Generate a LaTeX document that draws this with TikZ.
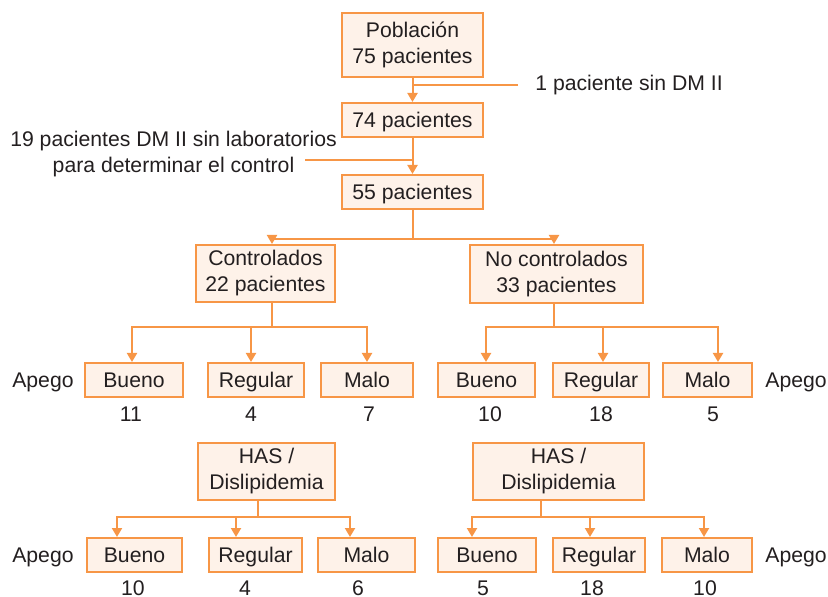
\documentclass[tikz,border=0pt]{standalone}
\usepackage{fontspec}
\setmainfont{Liberation Sans}
\usetikzlibrary{arrows.meta, positioning}
\definecolor{boxorange}{RGB}{247,150,70}
\definecolor{inkgray}{RGB}{35,31,32}

\begin{document}
\begin{tikzpicture}[
            x=1pt, y=1pt,
            font=\fontsize{10.6}{13}\selectfont, text=inkgray,
            box/.style={rectangle, draw=boxorange, fill=boxorange!12, line width=1.2pt, align=center, inner sep=2pt},
            level/.style={box, minimum height=16.8pt, text height=8pt, text depth=0.4pt},
            note/.style={align=center, inner sep=0pt},
            num/.style={inner sep=0pt},
            line/.style={draw=boxorange, line width=1pt},
            arrow/.style={line, -{Triangle[width=5pt,length=4.5pt]}}
        ]
            \useasboundingbox (0,0) rectangle (414,-298.5);

            % main column
            \node[box, minimum width=70.3pt, minimum height=31.8pt] (pob) at (206.25,-22.5) {Población\\75 pacientes};
            \node[level, minimum width=70.3pt, below=12pt of pob] (p74) {74 pacientes};
            \node[level, minimum width=70.3pt, below=18pt of p74] (p55) {55 pacientes};

            % exclusions
            \node[note, anchor=west] (note1) at (267.5,-42.5) {1 paciente sin DM II};
            \node[note] (note2) at (86.75,-77) {19 pacientes DM II sin laboratorios\\para determinar el control};
            \coordinate (cut2) at (152.5,-80);

            % control groups
            \node[box, minimum width=69.3pt, minimum height=28.3pt] (ctrl) at (132.75,-136.75) {Controlados\\22 pacientes};
            \node[box, minimum width=86.3pt, minimum height=28.8pt] (noctrl) at (278.25,-137) {No controlados\\33 pacientes};

            \node[level, minimum width=48.8pt] (bL1) at (67,-190) {Bueno};
            \node[level, minimum width=47.8pt, right=11.5pt of bL1] (rL1) {Regular};
            \node[level, minimum width=45.8pt, right=7.5pt of rL1] (mL1) {Malo};
            \node[level, minimum width=48.3pt] (bR1) at (243.25,-190) {Bueno};
            \node[level, minimum width=47.8pt, right=8pt of bR1] (rR1) {Regular};
            \node[level, minimum width=44.3pt, right=6pt of rR1] (mR1) {Malo};

            % comorbidity groups
            \node[box, minimum width=68.3pt, minimum height=28.3pt] (hasL) at (133.25,-235.75) {HAS /\\Dislipidemia};
            \node[box, minimum width=85.3pt, minimum height=28.3pt] (hasR) at (279.25,-235.75) {HAS /\\Dislipidemia};

            \node[level, minimum width=47.3pt] (bL2) at (67.25,-277.5) {Bueno};
            \node[level, minimum width=46.3pt, right=12.5pt of bL2] (rL2) {Regular};
            \node[level, minimum width=48.3pt, right=7pt of rL2] (mL2) {Malo};
            \node[level, minimum width=48.8pt] (bR2) at (243.5,-277.5) {Bueno};
            \node[level, minimum width=45.8pt, right=7.5pt of bR2] (rR2) {Regular};
            \node[level, minimum width=44.8pt, right=7.5pt of rR2] (mR2) {Malo};

            % row labels
            \node[num, anchor=base east] (apL1) at ([xshift=-5pt]bL1.base west) {Apego};
            \node[num, anchor=base west] (apR1) at ([xshift=6pt]mR1.base east) {Apego};
            \node[num, anchor=base east] (apL2) at ([xshift=-6pt]bL2.base west) {Apego};
            \node[num, anchor=base west] (apR2) at ([xshift=6pt]mR2.base east) {Apego};

            % counts
            \foreach \k/\v/\dx in {bL1/11/-1.5, rL1/4/-2.5, mL1/7/1, bR1/10/1.75, rR1/18/0, mR1/5/2.75}
                \node[num, below=4.2pt of \k, xshift=\dx pt] (n\k) {\v};
            \foreach \k/\v/\dx in {bL2/10/-0.75, rL2/4/-5.25, mL2/6/-4.25, bR2/5/-2, rR2/18/-3.5, mR2/10/-1}
                \node[num, below=3.6pt of \k, xshift=\dx pt] (n\k) {\v};

            \draw[arrow] (pob) -- (p74);
            \draw[arrow] (p74) -- (p55);
            \draw[line] ([xshift=-8.5pt]note1.west) -- (note1.west -| pob.south);
            \draw[line] (cut2) -- (cut2 -| p74.south);

            \draw[arrow] (p55.south) -- ++(0,-14.5) -| ([xshift=3.25pt]ctrl.north);
            \draw[arrow] (p55.south) -- ++(0,-14.5) -| ([xshift=-1.25pt]noctrl.north);

            \foreach \k/\dx in {bL1/-1, rL1/-2.5, mL1/0}
                \draw[arrow] ([xshift=3.25pt]ctrl.south) -- ++(0,-12) -| ([xshift=\dx pt]\k.north);
            \foreach \k/\dx in {bR1/-0.25, rR1/1, mR1/5.25}
                \draw[arrow] ([xshift=-1.25pt]noctrl.south) -- ++(0,-11.5) -| ([xshift=\dx pt]\k.north);
            \foreach \k/\dx in {bL2/-8.75, rL2/-9.75, mL2/-8.25}
                \draw[arrow] ([xshift=-4.25pt]hasL.south) -- ++(0,-8) -| ([xshift=\dx pt]\k.north);
            \foreach \k/\dx in {bR2/-7.5, rR2/-4.5, mR2/-1.5}
                \draw[arrow] ([xshift=-8.75pt]hasR.south) -- ++(0,-8) -| ([xshift=\dx pt]\k.north);
        \end{tikzpicture}
\end{document}
